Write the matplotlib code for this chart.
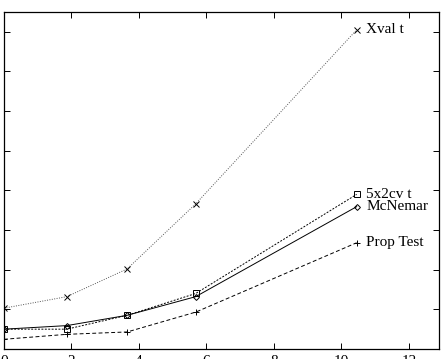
import matplotlib
matplotlib.use("Agg")
import matplotlib.pyplot as plt
import numpy as np

# data
x = [0, 1.86, 3.65, 5.68, 10.45]
xval_t = [1.03, 1.32, 2.02, 3.66, 8.05]
cv5x2_t = [0.50, 0.50, 0.85, 1.40, 3.90]
mcnemar = [0.50, 0.59, 0.85, 1.32, 3.59]
prop_test = [0.245, 0.37, 0.43, 0.93, 2.68]
xticks = [0, 2, 4, 6, 8, 10, 12]
yticks = [0, 1, 2, 3, 4, 5, 6, 7, 8]

plt.rcParams['font.family'] = ['Liberation Serif', 'DejaVu Serif']

fig = plt.figure(figsize=(4.46, 3.59), dpi=100)
ax = fig.add_axes([4 / 446, 10 / 359, 435 / 446, 337 / 359])

series = [
    (xval_t, "Xval t", "x", (0, (1, 1.5)), "#555555", 4),
    (cv5x2_t, "5x2cv t", "s", (0, (2, 1.5)), "black", 4),
    (mcnemar, "McNemar", "D", "-", "black", 3),
    (prop_test, "Prop Test", "+", (0, (4, 2.5)), "black", 5),
]
for ys, name, mk, ls, col, ms in series:
    ax.plot(x, ys, linestyle=ls, color=col, linewidth=0.7,
            marker=mk, markersize=ms, markerfacecolor="none",
            markeredgecolor="black", markeredgewidth=0.7)
    ax.annotate(name, (x[-1], ys[-1]), xytext=(7, 0), textcoords="offset points",
                va="center", ha="left", fontsize=11)

ax.set_xlim(0, 12.89)
ax.set_ylim(0, 8.5)
ax.set_xticks(xticks)
ax.set_yticks(yticks)
ax.set_yticklabels([])
ax.tick_params(direction="in", length=4, width=0.7, top=True, right=True,
               labelsize=11, pad=4.5)
for s in ax.spines.values():
    s.set_linewidth(0.9)

fig.savefig("out.png", dpi=100)
